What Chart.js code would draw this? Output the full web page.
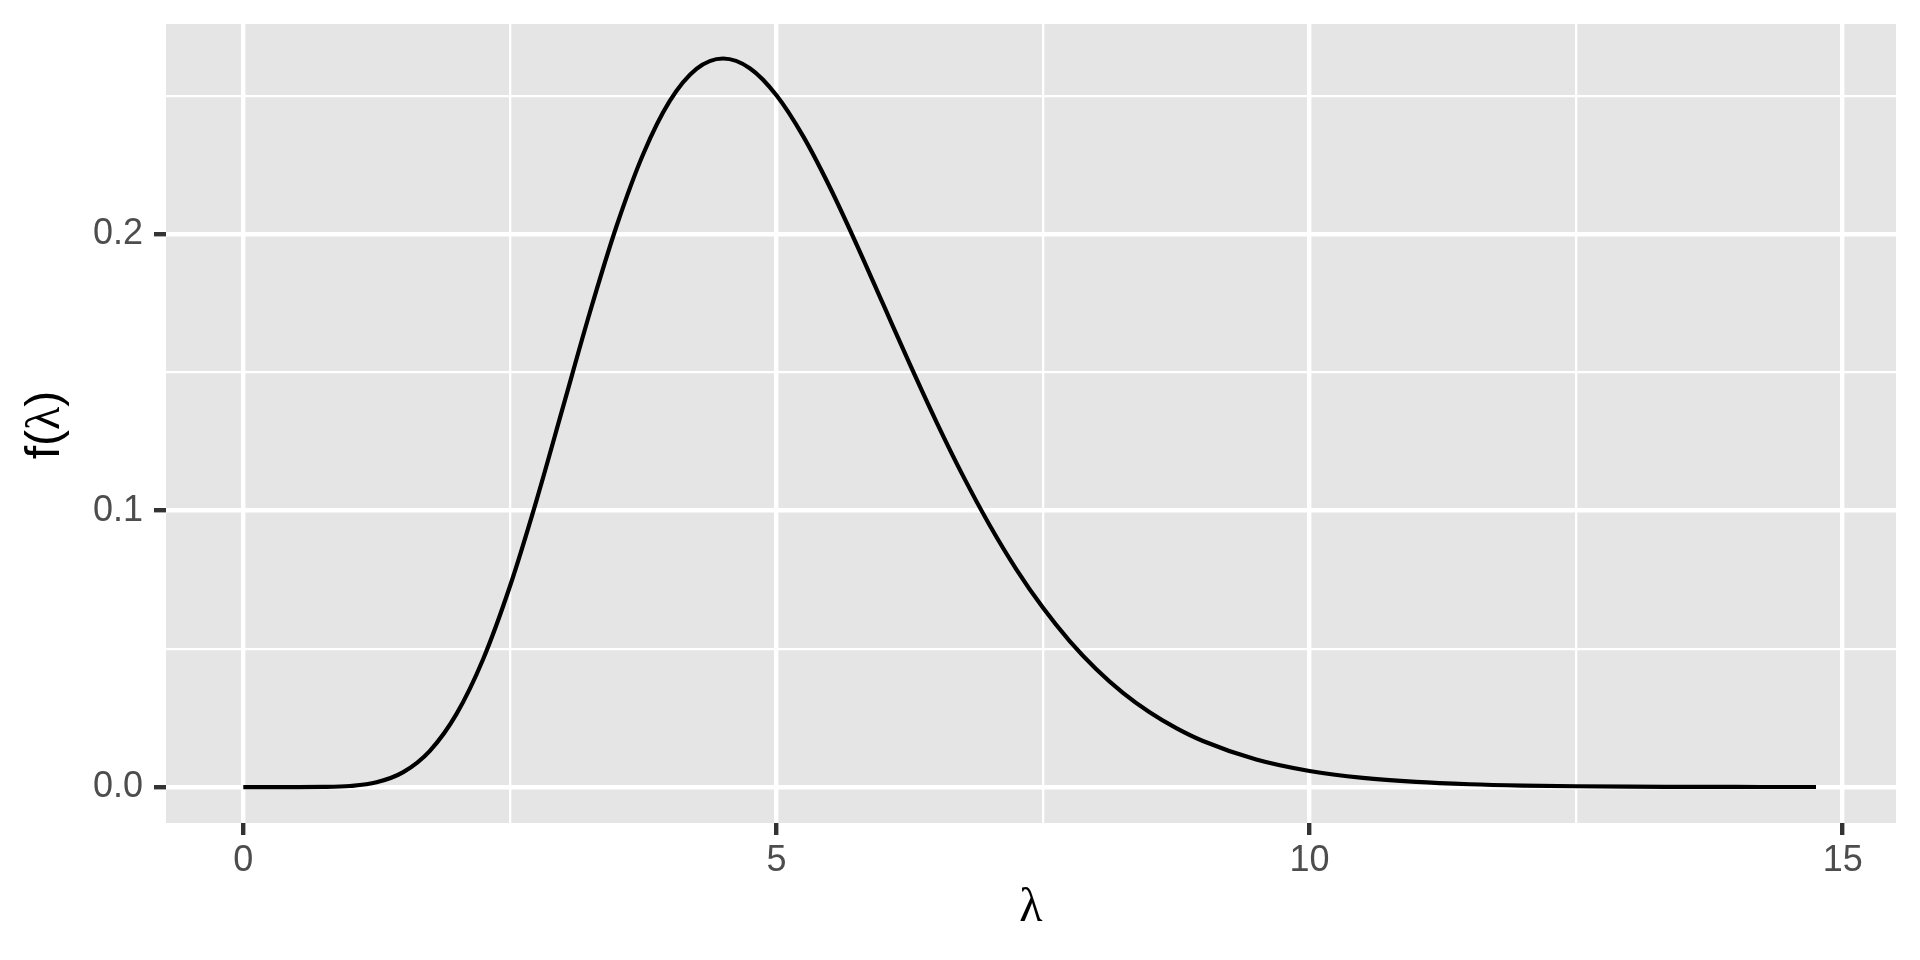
<!DOCTYPE html>
<html><head><meta charset="utf-8">
<script src="https://cdn.jsdelivr.net/npm/chart.js@4"></script>
<style>html,body{margin:0;padding:0;background:#fff}#wrap{width:1920px;height:960px}</style>
</head><body><div id="wrap"><canvas id="c" width="1920" height="960"></canvas></div>
<script>
const lambdaValues = [0,0.25,0.5,0.75,1,1.25,1.5,1.75,2,2.25,2.5,2.75,3,3.25,3.5,3.75,4,4.25,4.5,4.75,5,5.25,5.5,5.75,6,6.25,6.5,6.75,7,7.25,7.5,7.75,8,8.25,8.5,8.75,9,9.5,10,10.5,11,11.5,12,12.5,13,13.5,14,14.5,14.75];
const densityValues = [0,0,0.000002,0.0000472,0.000382,0.001725,0.0054,0.013114,0.026465,0.04633,0.07253,0.10372,0.13767,0.17164,0.20283,0.22888,0.24816,0.25975,0.26352,0.26002,0.25023,0.23545,0.21706,0.19642,0.17474,0.15305,0.13212,0.11256,0.09471,0.07876,0.06482,0.05281,0.04263,0.0341,0.02706,0.02131,0.01665,0.00996,0.00581,0.00332,0.001859,0.00102,0.00055,0.000292,0.000153,0.000079,0.00004,0.00002,0.000015];
const xTickValues = [0,2.5,5,7.5,10,12.5,15];
const xTickLabels = ['0','','5','','10','','15'];
const yTickValues = [0,0.05,0.1,0.15,0.2,0.25];
const yTickLabels = ['0.0','','0.1','','0.2',''];

const points = lambdaValues.map((x,i)=>({x:x,y:densityValues[i]}));
const isMajor = (labels, vals, v) => { const i = vals.indexOf(v); return i>=0 && labels[i] !== ''; };

const panelBg = {
  id:'panelBg',
  beforeDraw(chart){
    const {ctx, chartArea:a} = chart;
    ctx.save(); ctx.fillStyle='#e5e5e5';
    ctx.fillRect(a.left,a.top,a.right-a.left,a.bottom-a.top); ctx.restore();
  }
};
const yTitle = {
  id:'yTitle',
  afterDraw(chart){
    const {ctx, chartArea:a} = chart;
    const parts = [['f(','48px "Liberation Sans"'],['λ','48px "Liberation Serif"'],[')','48px "Liberation Sans"']];
    ctx.save();
    let w=0; parts.forEach(p=>{ctx.font=p[1]; w+=ctx.measureText(p[0]).width;});
    ctx.translate(46,425);
    ctx.rotate(-Math.PI/2);
    ctx.fillStyle='#000'; ctx.textBaseline='middle'; ctx.textAlign='left';
    let x=-w/2;
    parts.forEach(p=>{ctx.font=p[1]; ctx.fillText(p[0],x,0); x+=ctx.measureText(p[0]).width;});
    ctx.restore();
  }
};

new Chart(document.getElementById('c'),{
  type:'scatter',
  data:{datasets:[{data:points,showLine:true,borderColor:'#000',borderWidth:4.2,pointRadius:0,cubicInterpolationMode:'monotone',fill:false}]},
  options:{
    responsive:false,animation:false,
    layout:{padding:{top:24,right:24,left:0,bottom:0}},
    plugins:{legend:{display:false},tooltip:{enabled:false}},
    scales:{
      x:{type:'linear',min:-0.725,max:15.5,
        afterBuildTicks(s){s.ticks=xTickValues.map(v=>({value:v}));},
        afterFit(s){s.height=137;s.paddingLeft=0;s.paddingRight=0;s.paddingTop=0;s.paddingBottom=0;},
        border:{display:false},
        grid:{color:'#ffffff',
          lineWidth:c=>isMajor(xTickLabels,xTickValues,c.tick&&c.tick.value)?4.4:2.3,
          tickColor:c=>isMajor(xTickLabels,xTickValues,c.tick&&c.tick.value)?'#333333':'rgba(0,0,0,0)',
          tickWidth:4.4,tickLength:12},
        ticks:{padding:4,color:'#4d4d4d',font:{family:'"Liberation Sans"',size:36},maxRotation:0,autoSkip:false,
          callback:(v)=>{const i=xTickValues.indexOf(v);return i>=0?xTickLabels[i]:'';}},
        title:{display:true,text:'λ',color:'#000',font:{family:'"Liberation Serif"',size:48},padding:{top:0,bottom:23}}
      },
      y:{type:'linear',min:-0.013,max:0.276,
        afterBuildTicks(s){s.ticks=yTickValues.map(v=>({value:v}));},
        afterFit(s){s.width=166;s.paddingTop=0;s.paddingBottom=0;s.paddingLeft=0;s.paddingRight=0;},
        border:{display:false},
        grid:{color:'#ffffff',
          lineWidth:c=>isMajor(yTickLabels,yTickValues,c.tick&&c.tick.value)?4.4:2.3,
          tickColor:c=>isMajor(yTickLabels,yTickValues,c.tick&&c.tick.value)?'#333333':'rgba(0,0,0,0)',
          tickWidth:4.4,tickLength:12},
        ticks:{padding:11,color:'#4d4d4d',font:{family:'"Liberation Sans"',size:36},autoSkip:false,
          callback:(v)=>{const i=yTickValues.indexOf(v);return i>=0?yTickLabels[i]:'';}}
      }
    }
  },
  plugins:[panelBg,yTitle]
});
</script></body></html>
